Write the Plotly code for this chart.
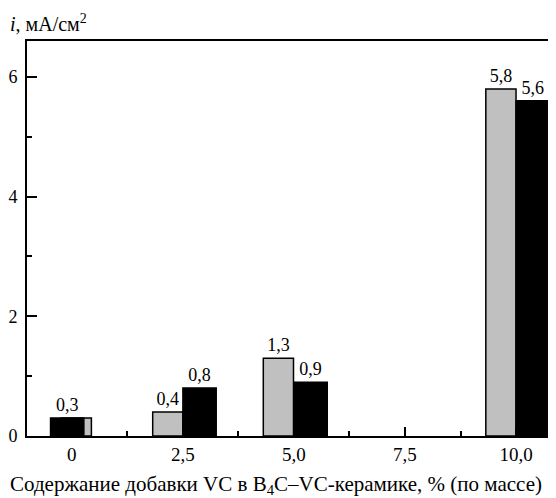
import plotly.graph_objects as go

# data
categories = [0, 2.5, 5.0, 7.5, 10.0]
tick_labels = ["0", "2,5", "5,0", "7,5", "10,0"]
gray_values = [0.3, 0.4, 1.3, None, 5.8]
black_values = [0.3, 0.8, 0.9, None, 5.6]
gray_labels = ["", "0,4", "1,3", "", "5,8"]
black_labels = ["0,3", "0,8", "0,9", "", "5,6"]

# style (bar placement relative to category, in axis units)
gray_offset = [-0.24, -0.68, -0.69, -0.68, -0.68]
black_offset = [-0.48, 0.0, 0.0, 0.0, 0.0]
gray_width = 0.68
black_width = 0.75

FONT = "Liberation Serif, Times New Roman, serif"

# page has an 8px body margin; figure is sized to fit the window
W, H = 548, 490
ML, MR, MT, MB = 19, 0, 33, 62
PW, PH = W - ML - MR, H - MT - MB

fig = go.Figure()
fig.add_trace(go.Bar(
    x=categories, y=gray_values, offset=gray_offset, width=gray_width,
    marker=dict(color="#c0c0c0", line=dict(color="black", width=1.5)),
    text=gray_labels, textposition="outside", cliponaxis=False,
    textfont=dict(family=FONT, size=18, color="black"),
    showlegend=False,
))
fig.add_trace(go.Bar(
    x=categories, y=black_values, offset=black_offset, width=black_width,
    marker=dict(color="black", line=dict(color="black", width=1.5)),
    text=black_labels, textposition="outside", cliponaxis=False,
    textfont=dict(family=FONT, size=18, color="black"),
    showlegend=False,
))

fig.update_layout(
    width=W, height=H,
    margin=dict(l=ML, r=MR, t=MT, b=MB),
    barmode="overlay",
    plot_bgcolor="white", paper_bgcolor="white",
    font=dict(family=FONT, size=18, color="black"),
    xaxis=dict(
        range=[-1.01, 10.9],
        tickvals=categories, ticktext=tick_labels,
        ticks="inside", ticklen=9, tickwidth=1.5, tickcolor="black",
        minor=dict(tick0=0, dtick=1.25, ticks="inside", ticklen=5,
                   tickwidth=1.5, tickcolor="black"),
        showline=True, linecolor="black", linewidth=2, mirror=True,
        showgrid=False, zeroline=False,
        tickfont=dict(family=FONT, size=19),
    ),
    yaxis=dict(
        range=[0, 6.6],
        tickvals=[0, 2, 4, 6], ticktext=["0", "2", "4", "6"],
        ticks="inside", ticklen=10, tickwidth=1.5, tickcolor="black",
        minor=dict(tick0=0, dtick=1, ticks="inside", ticklen=5,
                   tickwidth=1.5, tickcolor="black"),
        showline=True, linecolor="black", linewidth=2,
        showgrid=False, zeroline=False,
        tickfont=dict(family=FONT, size=18),
        ticklabelstandoff=4,
    ),
    annotations=[
        dict(text="<i>i</i>, мА/см<sup>2</sup>", xref="paper", yref="paper",
             x=-ML / PW, y=1 + 4 / PH, xanchor="left", yanchor="bottom",
             showarrow=False, font=dict(family=FONT, size=20)),
        dict(text="Содержание добавки VC в B<sub>4</sub>C–VC-керамике, % (по массе)",
             xref="paper", yref="paper",
             x=-ML / PW, y=-34 / PH, xanchor="left", yanchor="top",
             showarrow=False, font=dict(family=FONT, size=21)),
    ],
)

fig.write_html("out.html")
